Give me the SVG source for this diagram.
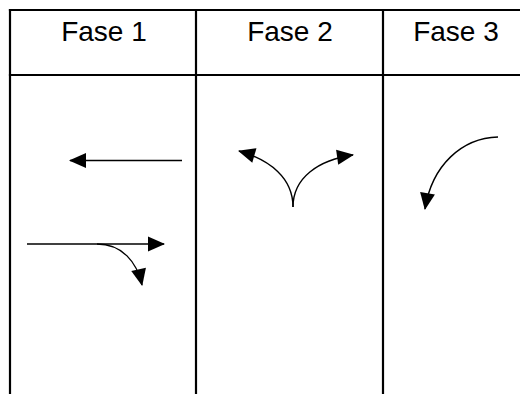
<svg xmlns="http://www.w3.org/2000/svg" width="520" height="394" viewBox="0 0 520 394">
<style>
.grid{stroke:#000;stroke-width:2.2;fill:none}
.hdr{font-family:"Liberation Sans",Arial,sans-serif;font-size:28px;fill:#000;text-anchor:middle}
.arr{stroke:#000;stroke-width:1.4;fill:none;marker-end:url(#ah)}
</style>
<defs>
<marker id="ah" markerUnits="userSpaceOnUse" markerWidth="18" markerHeight="16" refX="16" refY="7.5" orient="auto" overflow="visible">
<path d="M0,0 L17,7.5 L0,15 z" fill="#000"/>
</marker>
</defs>
<rect width="520" height="394" fill="#fff"/>
<g id="table">
<line class="grid" x1="8.9" y1="10" x2="520" y2="10"/>
<line class="grid" x1="8.9" y1="75" x2="520" y2="75"/>
<line class="grid" x1="10" y1="8.9" x2="10" y2="394"/>
<line class="grid" x1="196" y1="8.9" x2="196" y2="394"/>
<line class="grid" x1="383" y1="8.9" x2="383" y2="394"/>
</g>
<g id="header1"><text class="hdr" x="104" y="41">Fase 1</text></g>
<g id="header2"><text class="hdr" x="290" y="41">Fase 2</text></g>
<g id="header3"><text class="hdr" x="456" y="41">Fase 3</text></g>
<g id="connectors">
<path class="arr" d="M182,160.5 L70,160.5"/>
<path class="arr" d="M27,244 L164,244"/>
<path class="arr" d="M97,244 C122,244 137,262 142,285"/>
<path class="arr" d="M293,207 C293,178 270,160 239,151"/>
<path class="arr" d="M293,207 C293,178 318,160 353,155"/>
<path class="arr" d="M498,137 C462,138 432,165 425,209"/>
</g>
</svg>
